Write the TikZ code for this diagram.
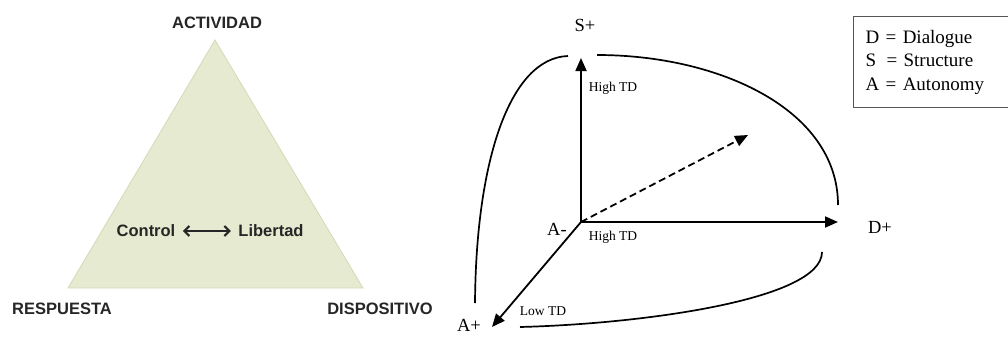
\documentclass[tikz,border=0pt]{standalone}
\usepackage{fontspec}
\setmainfont{Liberation Serif}
\newfontfamily\trifont{Liberation Sans}
\usepackage{tikz}
\usetikzlibrary{arrows.meta, positioning}
\definecolor{triFill}{HTML}{E5EAD0}
\definecolor{triEdge}{HTML}{D3DAB8}
\definecolor{keyLine}{HTML}{555555}

\begin{document}
\begin{tikzpicture}[
  x=1pt, y=-1pt,
  corner/.style={font=\trifont\bfseries\fontsize{16.5}{19}\selectfont, text=black!85},
  pole/.style={font=\fontsize{18.5}{21}\selectfont, inner sep=1pt},
  td/.style={font=\fontsize{13.5}{15}\selectfont, inner sep=1pt},
  axis/.style={-{Triangle[length=13pt,width=11pt]}, line width=1.8pt},
  loop/.style={line width=1.7pt},
  key/.style={draw=keyLine, line width=1.3pt, anchor=north west, align=left,
              text width=150pt, inner xsep=12pt, minimum height=91pt,
              font=\fontsize{19}{23.5}\selectfont},
]
\useasboundingbox (0,0) rectangle (1008,337);

% ---- triangle ----
\coordinate (top) at (215,40);
\coordinate (left) at (68,288);
\coordinate (right) at (363,288);
\filldraw[fill=triFill, draw=triEdge, line width=0.8pt] (top) -- (right) -- (left) -- cycle;

\node[corner] (actividad) at (217,23) {ACTIVIDAD};
\node[corner] (respuesta) at (62,309) {RESPUESTA};
\node[corner] (dispositivo) at (380,309) {DISPOSITIVO};

\node[corner] (control) at (146,231) {Control};
\node[corner] (libertad) at (271,231) {Libertad};
\draw[{Straight Barb[length=5pt,width=10pt]}-{Straight Barb[length=5pt,width=10pt]}, line width=2.2pt, black!85]
  ([xshift=4pt]control.east) -- ([xshift=-4pt]libertad.west);

% ---- dimensions ----
\coordinate (origin) at (581,222);
\coordinate (stip) at (581,58);
\coordinate (dtip) at (838,222);
\coordinate (atip) at (492,327);
\coordinate (mtip) at (748,135);

\draw[axis] (origin) -- (stip);
\draw[axis] (origin) -- (dtip);
\draw[axis] (origin) -- (atip);
\draw[axis, dash pattern=on 7pt off 4pt] (origin) -- (mtip);

\node[pole] (splus) at (585,25) {S+};
\node[pole] (aminus) at (557,229) {A-};
\node[pole] (dplus) at (880,227) {D+};
\node[pole, inner sep=0pt] (aplus) at (469,325) {A+};

\node[td] (hightop) at (613,88) {High TD};
\node[td] (highlow) at (613,237) {High TD};
\node[td] (lowtd) at (543,311) {Low TD};

% ---- loops ----
\coordinate (l1a) at (568,56);
\coordinate (l1b) at (475,303);
\coordinate (l2a) at (597,55);
\coordinate (l2b) at (838,205);
\coordinate (l3a) at (520,327);
\coordinate (l3b) at (822,252);
\draw[loop] (l1a) .. controls (510,58) and (476,160) .. (l1b);
\draw[loop] (l2a) .. controls (720,55) and (838,110) .. (l2b);
\draw[loop] (l3a) .. controls (640,324) and (822,300) .. (l3b);

% ---- key ----
\node[key] (legend) at (853,16) {D = Dialogue\\S \hspace{4pt}= Structure\\A = Autonomy};
\end{tikzpicture}
\end{document}
